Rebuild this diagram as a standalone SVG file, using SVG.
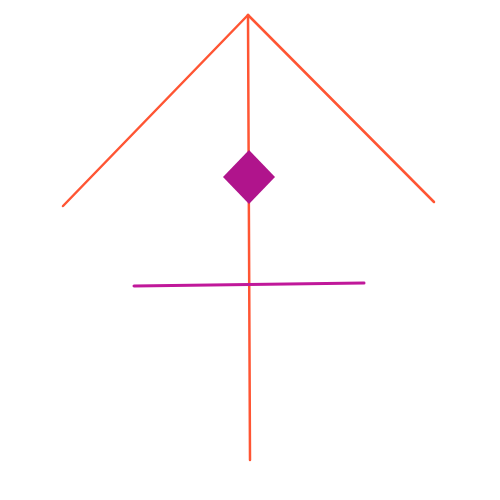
<svg xmlns="http://www.w3.org/2000/svg" width="500" height="500" viewBox="0 0 500 500">
<style>
.red{stroke:#ff5533;stroke-width:2.5;fill:none;stroke-linecap:round}
.mag{stroke:#c0189a;stroke-width:3;fill:none;stroke-linecap:round}
</style>
<rect width="500" height="500" fill="#ffffff"/>
<g id="connectors">
<line class="red" x1="248" y1="15" x2="63" y2="206"/>
<line class="red" x1="248" y1="15" x2="434" y2="202"/>
<line class="red" x1="248" y1="15" x2="250" y2="460"/>
<line class="mag" x1="134" y1="286" x2="364" y2="283"/>
</g>
<g id="diamond">
<polygon points="249,150 275,177 249,204 223,177" fill="#b0148c"/>
</g>
</svg>
